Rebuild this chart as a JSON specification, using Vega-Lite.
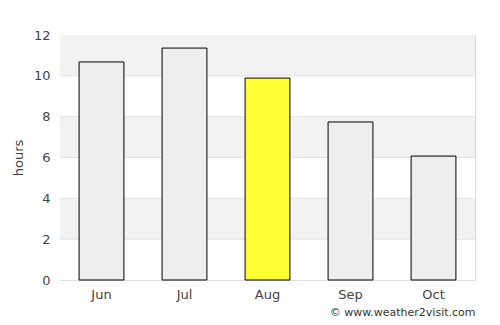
{
  "$schema": "https://vega.github.io/schema/vega-lite/v6.json",
  "width": 415,
  "height": 245,
  "autosize": {"type": "none"},
  "padding": {"left": 60, "top": 35, "right": 25, "bottom": 45},
  "background": "white",
  "config": {
    "font": "DejaVu Sans",
    "view": {"stroke": "#dddddd", "strokeWidth": 1}
  },
  "title": {
    "text": "© www.weather2visit.com",
    "orient": "bottom",
    "anchor": "end",
    "fontSize": 11,
    "fontWeight": "normal",
    "color": "#333333",
    "offset": 6
  },
  "datasets": {
    "bands": [
      {"lo": 0, "hi": 2, "shade": "w"},
      {"lo": 2, "hi": 4, "shade": "g"},
      {"lo": 4, "hi": 6, "shade": "w"},
      {"lo": 6, "hi": 8, "shade": "g"},
      {"lo": 8, "hi": 10, "shade": "w"},
      {"lo": 10, "hi": 12, "shade": "g"}
    ],
    "gridlines": [
      {"v": 2}, {"v": 4}, {"v": 6}, {"v": 8}, {"v": 10}
    ],
    "months": [
      {"month": "Jun", "hours": 10.68, "hl": "n"},
      {"month": "Jul", "hours": 11.36, "hl": "n"},
      {"month": "Aug", "hours": 9.89, "hl": "y"},
      {"month": "Sep", "hours": 7.74, "hl": "n"},
      {"month": "Oct", "hours": 6.07, "hl": "n"}
    ]
  },
  "layer": [
    {
      "data": {"name": "bands"},
      "mark": {"type": "rect"},
      "encoding": {
        "y": {"field": "lo", "type": "quantitative", "scale": {"domain": [0, 12]}},
        "y2": {"field": "hi"},
        "fill": {"field": "shade", "type": "nominal", "scale": {"domain": ["w", "g"], "range": ["#ffffff", "#f2f2f2"]}, "legend": null}
      }
    },
    {
      "data": {"name": "gridlines"},
      "mark": {"type": "rule", "color": "#e2e2e2", "strokeWidth": 1},
      "encoding": {
        "y": {"field": "v", "type": "quantitative"}
      }
    },
    {
      "data": {"name": "months"},
      "mark": {"type": "bar", "stroke": "#000000", "strokeWidth": 1},
      "encoding": {
        "x": {
          "field": "month", "type": "nominal", "sort": null,
          "scale": {"paddingInner": 0.46, "paddingOuter": 0.23},
          "axis": {"title": null, "labelAngle": 0, "labelFontSize": 13, "labelColor": "#444444", "ticks": false, "domain": true, "domainColor": "#dddddd", "labelPadding": 8}
        },
        "y": {
          "field": "hours", "type": "quantitative",
          "scale": {"domain": [0, 12]},
          "axis": {"title": "hours", "titleFontSize": 13, "titleFontWeight": "normal", "titleColor": "#444444", "titlePadding": 8, "values": [0, 2, 4, 6, 8, 10, 12], "labelFontSize": 13, "labelColor": "#444444", "ticks": false, "domain": false, "grid": false, "labelPadding": 10}
        },
        "fill": {"field": "hl", "type": "nominal", "scale": {"domain": ["n", "y"], "range": ["#eeeeee", "#ffff33"]}, "legend": null}
      }
    }
  ],
  "resolve": {"scale": {"fill": "independent"}}
}
